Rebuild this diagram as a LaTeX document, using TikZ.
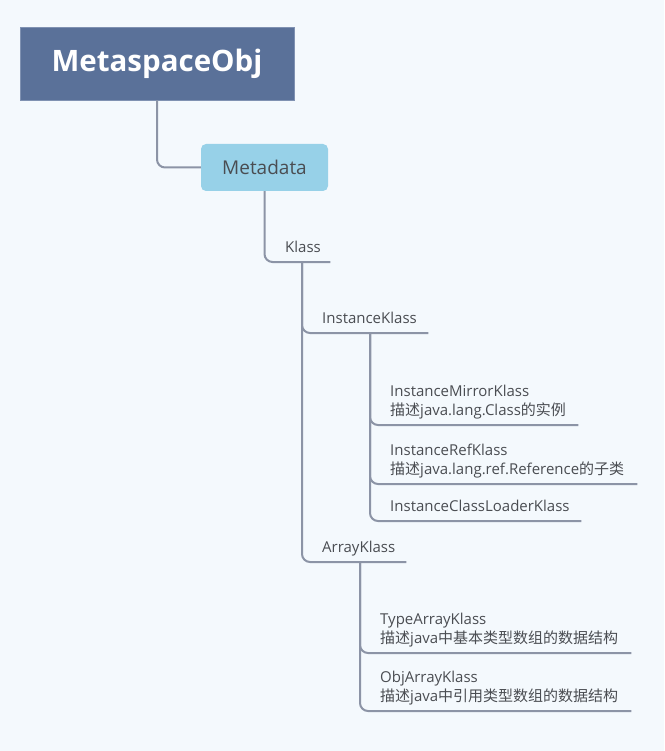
\documentclass[tikz,border=0pt]{standalone}
\usepackage{fontspec}
\setmainfont{Open Sans}
\newfontfamily\cjk{Noto Sans CJK SC}
\newcommand{\zh}[1]{{\cjk #1}}
\usetikzlibrary{calc}
\definecolor{bgcol}{HTML}{F4F9FD}
\definecolor{rootcol}{HTML}{5A7199}
\definecolor{rootedge}{HTML}{8092B2}
\definecolor{metacol}{HTML}{97D1E8}
\definecolor{linecol}{HTML}{8C94A6}
\definecolor{txtcol}{HTML}{4A4D52}
\tikzset{
  rootbox/.style={fill=rootcol,draw=rootedge,line width=0.8pt,
    minimum width=274pt,minimum height=73pt,text=white,
    font=\fontsize{29.5}{36}\selectfont\bfseries},
  metabox/.style={fill=metacol,rounded corners=5pt,
    minimum width=127pt,minimum height=47pt,text=txtcol,
    font=\fontsize{19}{23}\selectfont},
  leaf/.style={anchor=south west,inner xsep=0pt,inner ysep=9pt,
    text depth=0pt,align=left,text=txtcol,
    font=\fontsize{15}{19}\selectfont},
  twoleaf/.style={leaf,text depth=19pt},
  branch/.style={draw=linecol,line width=2pt,rounded corners=8pt},
}
\begin{document}
\begin{tikzpicture}[x=1pt,y=-1pt]
\fill[bgcol] (0,0) rectangle (664,751);
\node[rootbox] (root) at (157,63.5) {MetaspaceObj};
\node[metabox] (meta) at (264.5,167.5) {Metadata};
\node[leaf,text width=45pt] (klass) at (285,262) {Klass};
\node[leaf,text width=106pt] (ik) at (322,333) {InstanceKlass};
\node[leaf,text width=84pt] (ak) at (322,562) {ArrayKlass};
\node[twoleaf,text width=188pt] (mirror) at (390,425)
  {InstanceMirrorKlass\\\zh{描述}java.lang.Class\zh{的实例}};
\node[twoleaf,text width=247pt] (refk) at (390,484)
  {InstanceRefKlass\\\zh{描述}java.lang.ref.Reference\zh{的子类}};
\node[leaf,text width=191pt] (loader) at (390,521)
  {InstanceClassLoaderKlass};
\node[twoleaf,text width=251pt] (typeak) at (380,653)
  {TypeArrayKlass\\\zh{描述}java\zh{中基本类型数组的数据结构}};
\node[twoleaf,text width=251pt] (objak) at (380,711)
  {ObjArrayKlass\\\zh{描述}java\zh{中引用类型数组的数据结构}};
\coordinate (klassfork) at ($(klass.south west)+(17,0)$);
\coordinate (ikfork) at ($(ik.south west)+(48,0)$);
\coordinate (akfork) at ($(ak.south west)+(38,0)$);
\draw[branch] (root.south) |- (meta.west);
\draw[branch] (meta.south) |- (klass.south east);
\foreach \c in {ik,ak}
  \draw[branch] (klassfork) |- (\c.south east);
\foreach \c in {mirror,refk,loader}
  \draw[branch] (ikfork) |- (\c.south east);
\foreach \c in {typeak,objak}
  \draw[branch] (akfork) |- (\c.south east);
\end{tikzpicture}
\end{document}
